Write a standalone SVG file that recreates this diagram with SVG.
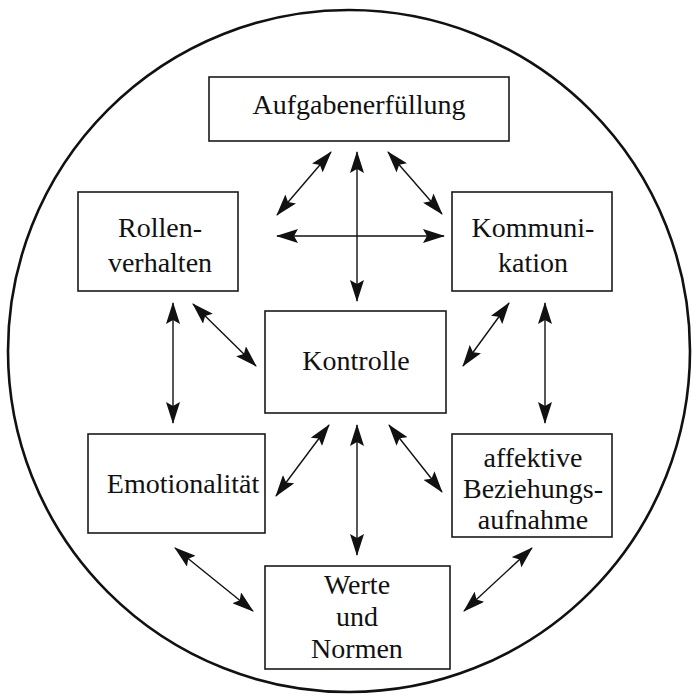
<svg xmlns="http://www.w3.org/2000/svg" width="694" height="698" viewBox="0 0 694 698">
  <style>
    .box { fill: #ffffff; stroke: #1a1a1a; stroke-width: 1.6; }
    .lbl { font-family: "Liberation Serif", "Times New Roman", serif; font-size: 28px; fill: #111111; text-anchor: middle; }
    .link { stroke: #111111; stroke-width: 1.4; fill: none; marker-start: url(#head); marker-end: url(#head); }
  </style>
  <defs>
    <marker id="head" viewBox="0 0 22 14" refX="21" refY="7" markerWidth="22" markerHeight="14" markerUnits="userSpaceOnUse" orient="auto-start-reverse">
      <path d="M0,0 L22,7 L0,14 L4,7 Z" fill="#111111"/>
    </marker>
  </defs>

  <rect width="694" height="698" fill="#ffffff"/>

  <!-- enclosing circle -->
  <circle cx="349" cy="351" r="341" fill="none" stroke="#111111" stroke-width="2.6"/>

  <g id="connectors">
    <line class="link" x1="331" y1="152" x2="277" y2="215"/>
    <line class="link" x1="357" y1="152" x2="357" y2="301"/>
    <line class="link" x1="388" y1="152" x2="442" y2="214"/>
    <line class="link" x1="277" y1="236" x2="444" y2="236"/>
    <line class="link" x1="173" y1="303" x2="173" y2="423"/>
    <line class="link" x1="193" y1="304" x2="256" y2="366"/>
    <line class="link" x1="509" y1="303" x2="463" y2="366"/>
    <line class="link" x1="545" y1="303" x2="545" y2="423"/>
    <line class="link" x1="329" y1="425" x2="276" y2="496"/>
    <line class="link" x1="357" y1="425" x2="357" y2="555"/>
    <line class="link" x1="389" y1="425" x2="442" y2="492"/>
    <line class="link" x1="175" y1="548" x2="253" y2="611"/>
    <line class="link" x1="532" y1="548" x2="464" y2="611"/>
  </g>

  <g id="aufgabenerfuellung">
    <rect class="box" x="209" y="77" width="300" height="64"/>
    <text class="lbl" x="359" y="114">Aufgabenerfüllung</text>
  </g>

  <g id="rollenverhalten">
    <rect class="box" x="78" y="192" width="160" height="99"/>
    <text class="lbl" x="160" y="237">Rollen-</text>
    <text class="lbl" x="160" y="272">verhalten</text>
  </g>

  <g id="kommunikation">
    <rect class="box" x="452" y="192" width="160" height="99"/>
    <text class="lbl" x="533" y="237">Kommuni-</text>
    <text class="lbl" x="533" y="272">kation</text>
  </g>

  <g id="kontrolle">
    <rect class="box" x="265" y="311" width="181" height="102"/>
    <text class="lbl" x="356" y="370">Kontrolle</text>
  </g>

  <g id="emotionalitaet">
    <rect class="box" x="88" y="434" width="177" height="99"/>
    <text class="lbl" x="183" y="493">Emotionalität</text>
  </g>

  <g id="beziehungsaufnahme">
    <rect class="box" x="452" y="434" width="160" height="103"/>
    <text class="lbl" x="533" y="467">affektive</text>
    <text class="lbl" x="533" y="498">Beziehungs-</text>
    <text class="lbl" x="533" y="529">aufnahme</text>
  </g>

  <g id="werte-normen">
    <rect class="box" x="265" y="566" width="185" height="103"/>
    <text class="lbl" x="357" y="594">Werte</text>
    <text class="lbl" x="357" y="626">und</text>
    <text class="lbl" x="357" y="658">Normen</text>
  </g>
</svg>
